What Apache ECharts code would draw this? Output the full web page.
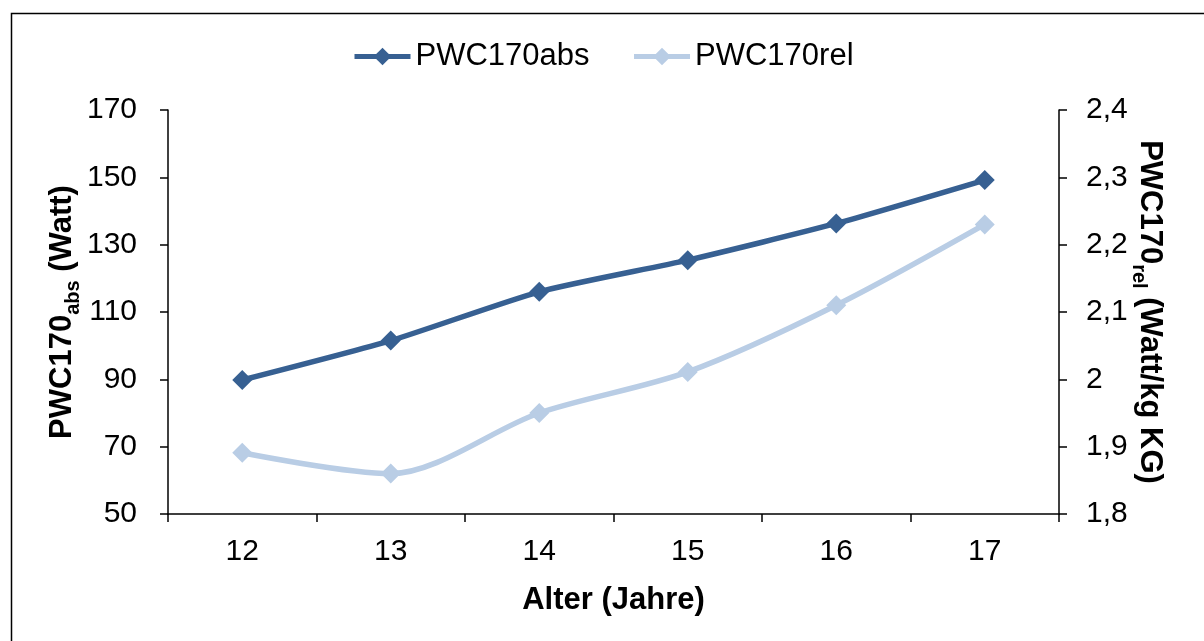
<!DOCTYPE html>
<html>
<head>
<meta charset="utf-8">
<script src="https://cdn.jsdelivr.net/npm/echarts@6/dist/echarts.min.js"></script>
<style>
html,body{margin:0;padding:0;background:#fff;}
#chart{width:1204px;height:641px;}
</style>
</head>
<body>
<div id="chart"></div>
<script>
const categories = ['12', '13', '14', '15', '16', '17'];
const pwcAbs = [89.8, 101.5, 116.0, 125.4, 136.3, 149.2];
const pwcRel = [1.891, 1.860, 1.950, 2.011, 2.110, 2.230];
const seriesNames = ['PWC170abs', 'PWC170rel'];

const FONT = '"Liberation Sans", Arial, sans-serif';
const TICK = 30;
const TITLE = 31;
const SUB = 20;
const chart = echarts.init(document.getElementById('chart'));
const rich = {
  b: { fontSize: TITLE, fontWeight: 'bold', fontFamily: FONT, color: '#000', lineHeight: 36, verticalAlign: 'bottom' },
  s: { fontSize: SUB, fontWeight: 'bold', fontFamily: FONT, color: '#000', lineHeight: 36, verticalAlign: 'bottom', padding: [0, 0, -5, 0] }
};
chart.setOption({
  animation: false,
  backgroundColor: '#fff',
  textStyle: { fontFamily: FONT, color: '#000' },
  graphic: [{
    type: 'rect', left: 9, top: 11, silent: true,
    shape: { x: 0, y: 0, width: 1300, height: 800 },
    style: { fill: 'none', stroke: '#000', lineWidth: 1.5 }
  }],
  legend: {
    top: 36, left: 347,
    itemWidth: 56, itemHeight: 22, itemGap: 42,
    lineStyle: { width: 5 },
    textStyle: { fontSize: 31, fontFamily: FONT, color: '#000' },
    data: seriesNames
  },
  grid: { left: 168, right: 145, top: 110, bottom: 127, containLabel: false },
  xAxis: {
    type: 'category', data: categories, boundaryGap: true,
    name: 'Alter (Jahre)', nameLocation: 'middle', nameGap: 71, nameMoveOverlap: false,
    nameTextStyle: { fontSize: TITLE, fontWeight: 'bold', fontFamily: FONT, color: '#000' },
    axisLine: { lineStyle: { color: '#000', width: 1.5 } },
    axisTick: { show: true, alignWithLabel: false, length: 8, lineStyle: { color: '#000', width: 1.5 } },
    axisLabel: { fontSize: TICK, margin: 23, color: '#000', fontFamily: FONT },
    splitLine: { show: false }
  },
  yAxis: [{
    type: 'value', min: 50, max: 170, interval: 20, position: 'left',
    name: '{b|PWC170}{s|abs}{b| (Watt)}', nameLocation: 'middle', nameGap: 90, nameRotate: 90,
    nameMoveOverlap: false,
    nameTextStyle: { rich: rich },
    axisLine: { show: true, lineStyle: { color: '#000', width: 1.5 } },
    axisTick: { show: true, length: 8, lineStyle: { color: '#000', width: 1.5 } },
    axisLabel: { fontSize: TICK, margin: 31, color: '#000', fontFamily: FONT },
    splitLine: { show: false }
  }, {
    type: 'value', min: 1.8, max: 2.4, interval: 0.1, position: 'right',
    name: '{b|PWC170}{s|rel}{b| (Watt/kg KG)}', nameLocation: 'middle', nameGap: 75, nameRotate: -90,
    nameMoveOverlap: false,
    nameTextStyle: { rich: rich },
    axisLine: { show: true, lineStyle: { color: '#000', width: 1.5 } },
    axisTick: { show: true, length: 8, lineStyle: { color: '#000', width: 1.5 } },
    axisLabel: {
      fontSize: TICK, margin: 27, color: '#000', fontFamily: FONT,
      formatter: v => String(Math.round(v * 10) / 10).replace('.', ',')
    },
    splitLine: { show: false }
  }],
  series: [{
    name: seriesNames[0], type: 'line', yAxisIndex: 0, data: pwcAbs,
    smooth: 0.2, symbol: 'diamond', symbolSize: 20,
    lineStyle: { color: '#376092', width: 5.5 },
    itemStyle: { color: '#376092' }
  }, {
    name: seriesNames[1], type: 'line', yAxisIndex: 1, data: pwcRel,
    smooth: 0.3, symbol: 'diamond', symbolSize: 20,
    lineStyle: { color: '#B9CDE5', width: 5.5 },
    itemStyle: { color: '#B9CDE5' }
  }]
});
</script>
</body>
</html>
